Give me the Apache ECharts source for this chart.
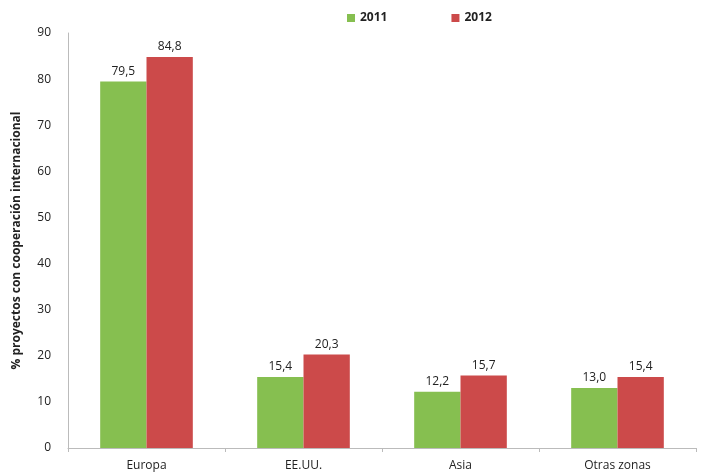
<!DOCTYPE html>
<html>
<head>
<meta charset="utf-8">
<script src="https://cdn.jsdelivr.net/npm/echarts@6/dist/echarts.min.js"></script>
<style>
  html, body { margin: 0; padding: 0; background: #fff; }
  #chart { width: 725px; height: 475px; }
</style>
</head>
<body>
<div id="chart"></div>
<script>
var categories = ['Europa', 'EE.UU.', 'Asia', 'Otras zonas'];
var values2011 = [79.5, 15.4, 12.2, 13.0];
var values2012 = [84.8, 20.3, 15.7, 15.4];
var seriesNames = ['2011', '2012'];

var fmt = function (p) {
    return p.value.toFixed(1).replace('.', ',');
};

var myChart = echarts.init(document.getElementById('chart'));

var labelStyle = {
    show: true,
    position: 'top',
    formatter: fmt,
    color: '#222',
    fontFamily: 'Open Sans',
    fontSize: 12,
    distance: 4
};

var option = {
    animation: false,
    textStyle: { fontFamily: 'Open Sans' },
    legend: {
        top: 7,
        left: 342,
        itemGap: 64,
        itemWidth: 8,
        itemHeight: 8,
        icon: 'rect',
        textStyle: { fontSize: 12, fontWeight: 'bold', color: '#222' },
        data: seriesNames
    },
    grid: {
        left: 68,
        right: 29,
        top: 33,
        bottom: 27
    },
    xAxis: {
        type: 'category',
        data: categories,
        axisLine: { lineStyle: { color: '#bbb' } },
        axisTick: { show: true, length: 4, lineStyle: { color: '#bbb' } },
        axisLabel: { color: '#222', fontSize: 12, margin: 12 }
    },
    yAxis: {
        type: 'value',
        min: 0,
        max: 90,
        interval: 10,
        name: '% proyectos con cooperación internacional',
        nameLocation: 'middle',
        nameGap: 45,
        nameTextStyle: { fontSize: 12, fontWeight: 'bold', color: '#222' },
        axisLine: { show: true, lineStyle: { color: '#bbb' } },
        axisTick: { show: false },
        splitLine: { show: false },
        axisLabel: { color: '#222', fontSize: 12, margin: 17 }
    },
    series: [
        {
            name: seriesNames[0],
            type: 'bar',
            data: values2011,
            itemStyle: { color: '#86bf50' },
            barGap: '0%',
            barCategoryGap: '41%',
            label: labelStyle
        },
        {
            name: seriesNames[1],
            type: 'bar',
            data: values2012,
            itemStyle: { color: '#cc4a4a' },
            barGap: '0%',
            barCategoryGap: '41%',
            label: labelStyle
        }
    ]
};

myChart.setOption(option);
</script>
</body>
</html>
